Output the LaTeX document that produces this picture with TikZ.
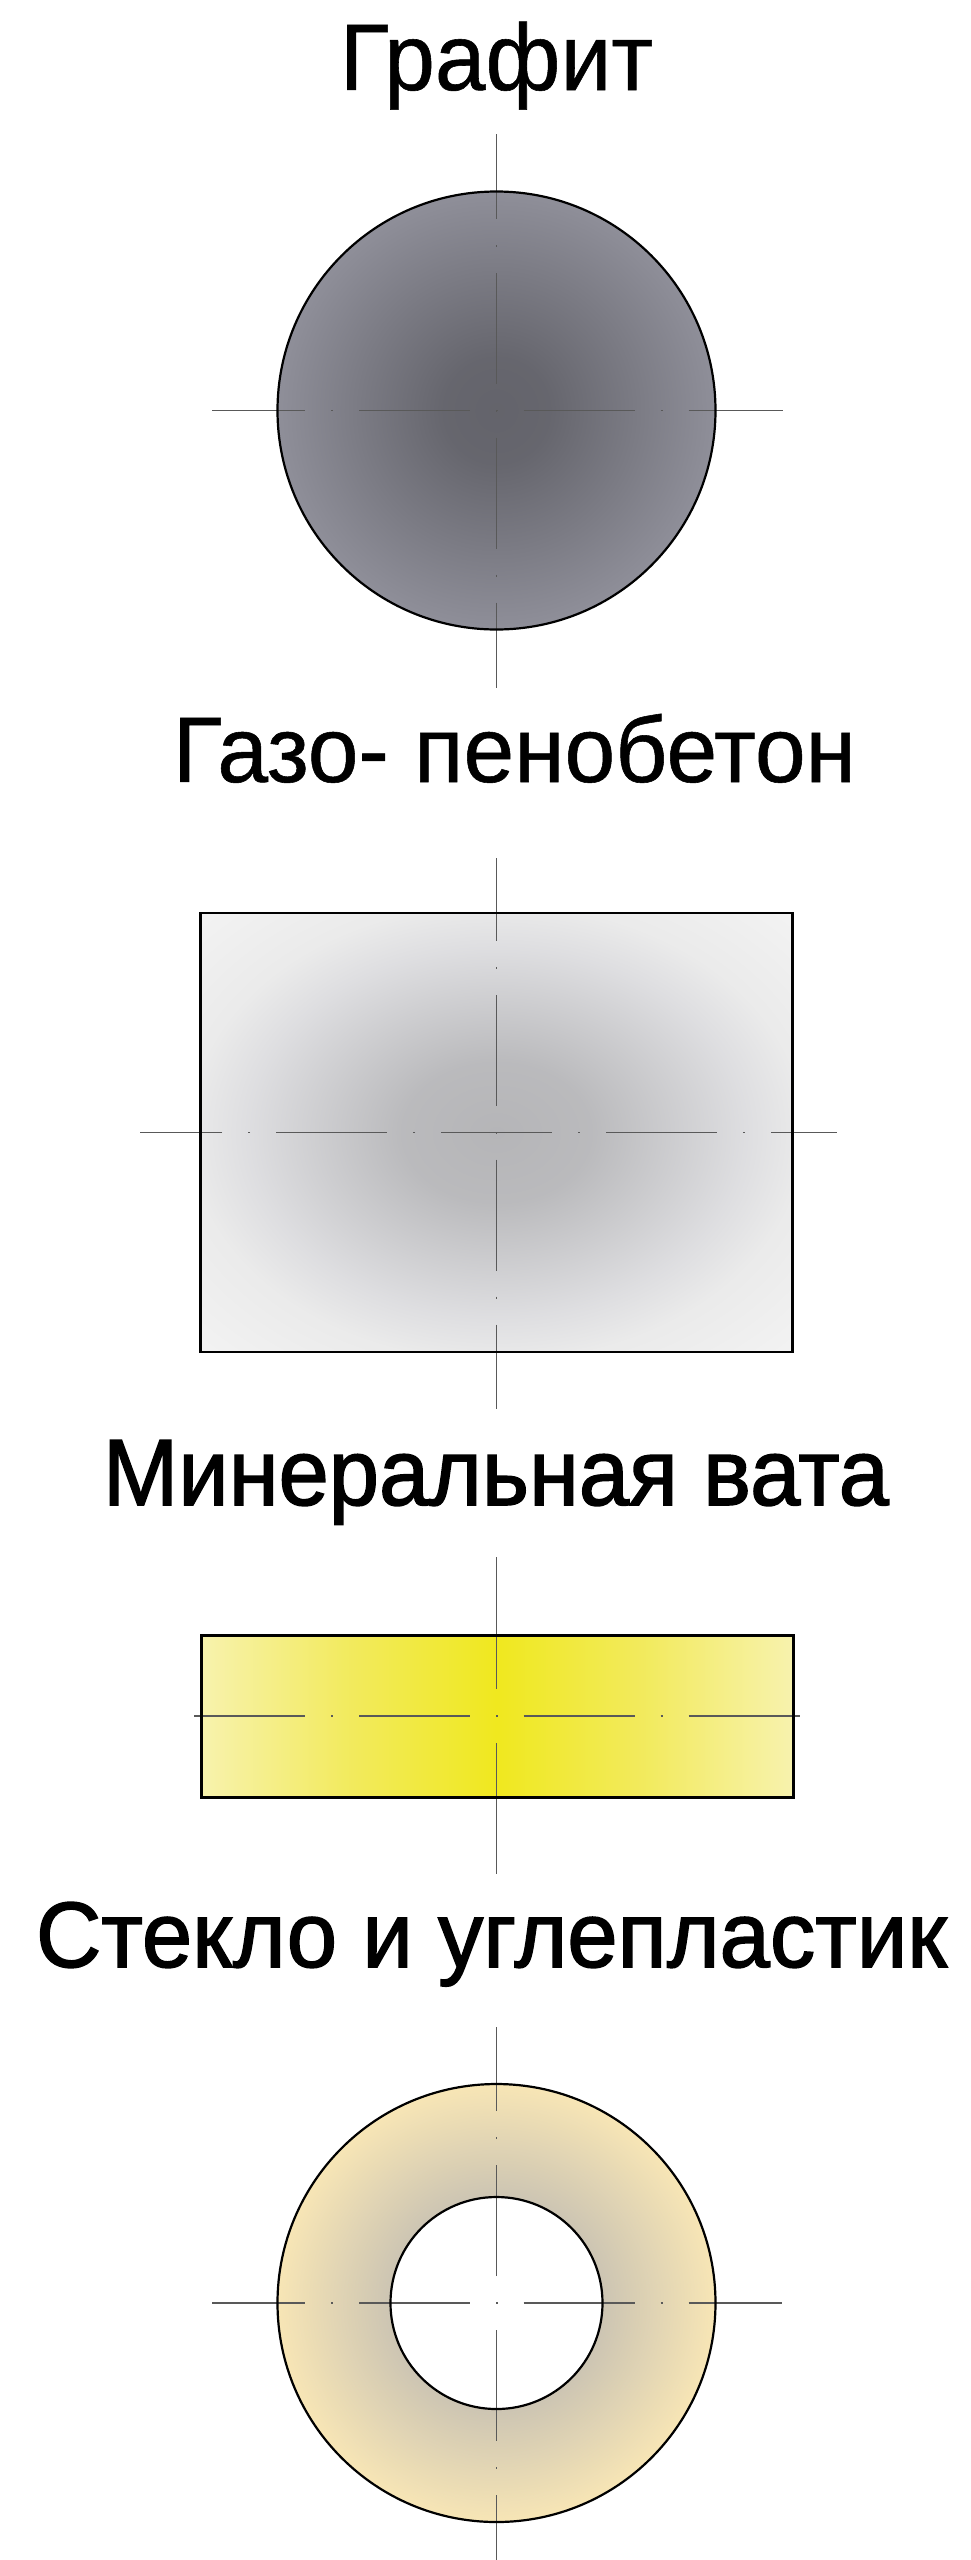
\documentclass[tikz,border=0pt]{standalone}
\usepackage{fontspec}
\usepackage{graphicx}
\newfontfamily\titlefamily[FakeBold=0.6]{Liberation Sans}
\newfontfamily\narrowfamily[FakeBold=1.6]{Liberation Sans}
\newcommand\titlefont{\titlefamily\fontsize{90}{100}\selectfont}
\newcommand\narrowfont{\narrowfamily\fontsize{90}{100}\selectfont}
\newlength\capHt
\newlength\txtWd
\newcommand\ttl[4]{%
  \settoheight\capHt{#4Н}%
  \settowidth\txtWd{#4#3}%
  \pgfmathsetmacro\sxv{#2/\txtWd}%
  \pgfmathsetmacro\syv{#1/\capHt}%
  \scalebox{\sxv}[\syv]{#4#3}}

\pgfdeclareradialshading{graphsh}{\pgfpoint{0bp}{0bp}}{rgb(0bp)=(0.39,0.39,0.42); rgb(6bp)=(0.40,0.40,0.43); rgb(25bp)=(0.56,0.56,0.60); rgb(50bp)=(0.56,0.56,0.60)}
\pgfdeclareradialshading{gassh}{\pgfpoint{0bp}{0bp}}{rgb(0bp)=(0.71,0.71,0.72); rgb(8bp)=(0.73,0.73,0.74); rgb(21bp)=(0.87,0.87,0.88); rgb(26bp)=(0.92,0.92,0.92); rgb(35bp)=(0.95,0.95,0.95); rgb(50bp)=(0.95,0.95,0.95)}
\pgfdeclarehorizontalshading{yelsh}{100bp}{rgb(0bp)=(0.97,0.95,0.68); rgb(25bp)=(0.97,0.95,0.68); rgb(37bp)=(0.95,0.92,0.38); rgb(50bp)=(0.94,0.91,0.12); rgb(63bp)=(0.95,0.92,0.38); rgb(75bp)=(0.97,0.95,0.68); rgb(100bp)=(0.97,0.95,0.68)}
\pgfdeclareradialshading{ringsh}{\pgfpoint{0bp}{0bp}}{rgb(0bp)=(0.79,0.76,0.70); rgb(12bp)=(0.80,0.77,0.70); rgb(25bp)=(0.97,0.90,0.71); rgb(50bp)=(0.97,0.90,0.71)}

\tikzset{
  axisline/.style={line width=1.2pt, draw=black!65, dash pattern=on 111pt off 26pt on 2pt off 26pt},
  cdot/.style={dash phase=138pt},
  cdash/.style={dash phase=55.5pt},
  outline/.style={draw=black, line width=2.4pt},
  ttlnode/.style={anchor=base, inner sep=0pt}
}

\begin{document}
\begin{tikzpicture}[x=1pt,y=-1pt]
\fill[white] (0,0) rectangle (971,2560);
\useasboundingbox (0,0) rectangle (971,2560);

% ---------- Graphite ----------
\node[ttlnode] (t1) at (496.5,90) {\ttl{65}{313}{Графит}{\titlefont}};
\coordinate (g) at (496.5,410.5);
\coordinate (gl) at (211.5,410.5);
\coordinate (gr) at (782.5,410.5);
\coordinate (gt) at (496.5,134);
\coordinate (gb) at (496.5,687.5);
\shade[shading=graphsh] (g) circle[radius=219pt];
\draw[axisline,cdot] (g) -- (gl);
\draw[axisline,cdot] (g) -- (gr);
\draw[axisline,cdot] (g) -- (gt);
\draw[axisline,cdot] (g) -- (gb);
\draw[outline,line width=2.2pt] (g) circle[radius=219pt];

% ---------- Gas concrete ----------
\node[ttlnode] (t2) at (514.5,782) {\ttl{64}{683}{Газо- пенобетон}{\titlefont}};
\coordinate (c) at (496.5,1132.5);
\coordinate (cl) at (140,1132.5);
\coordinate (cr) at (837,1132.5);
\coordinate (ct) at (496.5,858);
\coordinate (cb) at (496.5,1409);
\shade[shading=gassh] (200.5,913) rectangle (792.5,1352);
\draw[axisline,cdash] (c) -- (cl);
\draw[axisline,cdash] (c) -- (cr);
\draw[axisline,cdot] (c) -- (ct);
\draw[axisline,cdot] (c) -- (cb);
\draw[outline] (200.5,913) rectangle (792.5,1352);

% ---------- Mineral wool ----------
\node[ttlnode] (t3) at (496,1505) {\ttl{65}{786}{Минеральная вата}{\narrowfont}};
\coordinate (y) at (496.5,1716);
\coordinate (yl) at (171,1716);
\coordinate (yr) at (823,1716);
\coordinate (yt) at (496.5,1556);
\coordinate (yb) at (496.5,1874);
\shade[shading=yelsh] (201,1635) rectangle (793,1797);
\draw[axisline,cdot] (y) -- (yl);
\draw[axisline,cdot] (y) -- (yr);
\draw[axisline,dash pattern=on 132pt off 26pt on 2pt off 26pt,dash phase=159pt] (y) -- (yt);
\draw[axisline,dash pattern=on 132pt off 26pt on 2pt off 26pt,dash phase=159pt] (y) -- (yb);
\draw[outline,line width=3pt] (201,1635) rectangle (793,1797);

% ---------- Glass and carbon plastic ----------
\node[ttlnode] (t4) at (491.5,1967) {\ttl{64}{911}{Стекло и углепластик}{\narrowfont}};
\coordinate (r) at (496.5,2303);
\coordinate (rl) at (212,2303);
\coordinate (rr) at (782,2303);
\coordinate (rt) at (496.5,2027);
\coordinate (rb) at (496.5,2560);
\shade[shading=ringsh,even odd rule] (r) circle[radius=219pt] (r) circle[radius=106pt];
\draw[axisline,cdot] (r) -- (rl);
\draw[axisline,cdot] (r) -- (rr);
\draw[axisline,cdot] (r) -- (rt);
\draw[axisline,cdot] (r) -- (rb);
\draw[outline,line width=2.2pt] (r) circle[radius=219pt];
\draw[outline,line width=2.2pt] (r) circle[radius=106pt];
\end{tikzpicture}
\end{document}
